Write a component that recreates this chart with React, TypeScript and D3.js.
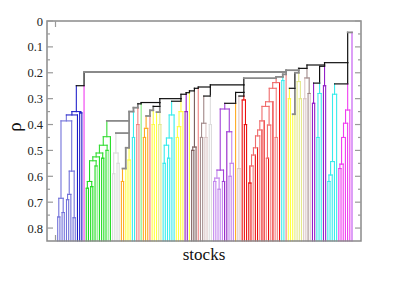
import React from "react";
import { scaleLinear, leastIndex, range } from "d3";

// one letter per stock, left to right, grouped by the clusters seen in the figure
const leafGroups = [
  "bbbbbbbbbBBB", "m", "GGGGGgGGGGgG", "wwww", "ooyyy", "ccrrg", "oooryyykk",
  "cccccc", "yyyy", "PP", "y", "DDD", "r", "NNnn", "ww", "pppppPPppp", "o",
  "nn", "RRR", "RRrRRrRRrRrRrrR", "cc", "r", "yyykkkk", "nnNn", "PPcccPP",
  "ccccc", "mmmmmm", "v",
];
const leafCodes = leafGroups.join("").split("");

// rho at which stock i first joins stock i+1 (adjacent merge heights)
const joinRho = [
  0.757, 0.685, 0.74, 0.386, 0.69, 0.67, 0.58, 0.76, 0.363, 0.35, 0.355, 0.25,
  0.197,
  0.646, 0.62, 0.64, 0.54, 0.56, 0.525, 0.51, 0.53, 0.48, 0.5, 0.447,
  0.386,
  0.59, 0.51, 0.55,
  0.433,
  0.62, 0.57, 0.49, 0.537,
  0.35,
  0.45, 0.335, 0.4, 0.32,
  0.315,
  0.45, 0.415, 0.367, 0.345, 0.4, 0.33, 0.352, 0.4,
  0.3,
  0.55, 0.48, 0.53, 0.452, 0.363,
  0.31,
  0.45, 0.408, 0.35,
  0.283,
  0.35,
  0.277,
  0.27,
  0.5, 0.487,
  0.26,
  0.255,
  0.45, 0.395, 0.45,
  0.29,
  0.4,
  0.247,
  0.62, 0.607, 0.65, 0.576, 0.62, 0.34, 0.428, 0.6, 0.55,
  0.318,
  0.276,
  0.57,
  0.29,
  0.305, 0.4,
  0.221,
  0.626, 0.56, 0.518, 0.49, 0.444, 0.421, 0.386, 0.33, 0.53, 0.402, 0.312, 0.26, 0.45, 0.238,
  0.216,
  0.23,
  0.206,
  0.19,
  0.3, 0.26, 0.36, 0.2, 0.234, 0.3,
  0.183,
  0.3, 0.22, 0.28,
  0.17,
  0.318, 0.24, 0.45, 0.28, 0.175, 0.25,
  0.161,
  0.62, 0.595, 0.543, 0.283,
  0.243,
  0.57, 0.553, 0.45, 0.395, 0.344,
  0.044,
];

const rhoTicks = [0, 0.1, 0.2, 0.3, 0.4, 0.5, 0.6, 0.7, 0.8];
const rhoTickLabels = ["0", "0.1", "0.2", "0.3", "0.4", "0.5", "0.6", "0.7", "0.8"];
const xLabel = "stocks";
const yLabel = "ρ";

const codeColor: Record<string, string> = {
  b: "#7272da", B: "#1c1cc6", m: "#f03cf0", G: "#22dd22", g: "#7fee7f",
  w: "#dcdcdc", o: "#ffaa22", y: "#ffff40", k: "#e4e88c", c: "#38ecec",
  R: "#ec1010", r: "#f28080", P: "#9320c8", p: "#c286ee", N: "#a58e8e",
  n: "#dcc6c6", D: "#7a5c5c", v: "#c050f0",
};
const family: Record<string, string> = {
  b: "b", B: "b", G: "g", g: "g", R: "r", r: "r", P: "p", p: "p", N: "n", n: "n", D: "n",
};
const familyColor: Record<string, string> = {
  b: "#2424cc", g: "#33dd33", r: "#f06c6c", p: "#a040d8", n: "#a08888",
};

const W = 407;
const H = 288;
const left = 47, right = 361, top = 21, bottom = 241;
const rhoMax = 0.85;

type Node = { x: number; rho: number; color: string; width: number; kids: Node[] };

const App = () => {
  const n = leafCodes.length;
  const x = scaleLinear().domain([0, n]).range([55.5, 352]);
  const y = scaleLinear().domain([0, rhoMax]).range([top, bottom]);

  const build = (lo: number, hi: number): Node => {
    if (lo === hi) {
      return { x: x(lo + 1), rho: rhoMax, color: codeColor[leafCodes[lo]], width: 1.1, kids: [] };
    }
    const k = lo + (leastIndex(joinRho.slice(lo, hi)) as number);
    const a = build(lo, k);
    const b = build(k + 1, hi);
    const rho = joinRho[k];
    const codes = new Set(leafCodes.slice(lo, hi + 1));
    const fams = new Set([...codes].map((c) => family[c] || c));
    // one sector: centred link in the sector colour; mixed: link rises from the right branch
    if (codes.size === 1 || fams.size === 1) {
      const color = codes.size === 1 ? codeColor[[...codes][0]] : familyColor[[...fams][0]];
      return { x: (a.x + b.x) / 2, rho, color, width: 1.1, kids: [a, b] };
    }
    const grey = (rho < 0.225 && b.x < 300) || rho > 0.33 || rho < 0.1;
    return {
      x: b.x,
      rho,
      color: grey ? "#8a8a8a" : "#111",
      width: grey ? 1.8 : 1.2,
      kids: [a, b],
    };
  };

  const root = build(0, n - 1);
  const segs: { x1: number; y1: number; x2: number; y2: number; c: string; w: number }[] = [];
  const walk = (nd: Node) => {
    if (!nd.kids.length) return;
    const yy = y(nd.rho);
    nd.kids.forEach((ch) => {
      segs.push({ x1: ch.x, y1: y(ch.rho), x2: ch.x, y2: yy, c: ch.color, w: ch.width });
      walk(ch);
    });
    segs.push({ x1: nd.kids[0].x, y1: yy, x2: nd.kids[1].x, y2: yy, c: nd.color, w: nd.width });
  };
  walk(root);

  const minor = range(0, rhoMax - 0.01, 0.05);

  return (
    <svg
      width={W}
      height={H}
      style={{ position: "absolute", left: 0, top: 0, background: "#fff" }}
      fontFamily="'Liberation Serif', 'Times New Roman', serif"
    >
      {segs.map((s, i) => (
        <line key={i} x1={s.x1} y1={s.y1} x2={s.x2} y2={s.y2} stroke={s.c} strokeWidth={s.w} strokeLinecap="square" />
      ))}
      <rect x={left} y={top} width={right - left} height={bottom - top} fill="none" stroke="#8a8a8a" strokeWidth={1.5} />
      {minor.map((v, i) => {
        const len = i % 2 === 0 ? 6 : 3;
        return (
          <g key={i} stroke="#9a9a9a" strokeWidth={1.2}>
            <line x1={left} x2={left + len} y1={y(v)} y2={y(v)} />
            <line x1={right} x2={right - len} y1={y(v)} y2={y(v)} />
          </g>
        );
      })}
      <line x1={x(0)} x2={x(0)} y1={top} y2={top + 6} stroke="#9a9a9a" strokeWidth={1.2} />
      <line x1={x(0)} x2={x(0)} y1={bottom} y2={bottom - 6} stroke="#9a9a9a" strokeWidth={1.2} />
      {rhoTicks.map((v, i) => (
        <text key={v} x={43} y={y(v) + 4.5} textAnchor="end" fontSize={12.5} fill="#222">
          {rhoTickLabels[i]}
        </text>
      ))}
      <text x={21} y={127} fontSize={19} textAnchor="middle" transform="rotate(-90 21 127)" fill="#111">
        {yLabel}
      </text>
      <text x={(left + right) / 2} y={260} fontSize={17} textAnchor="middle" fill="#111">
        {xLabel}
      </text>
    </svg>
  );
};

export default App;
